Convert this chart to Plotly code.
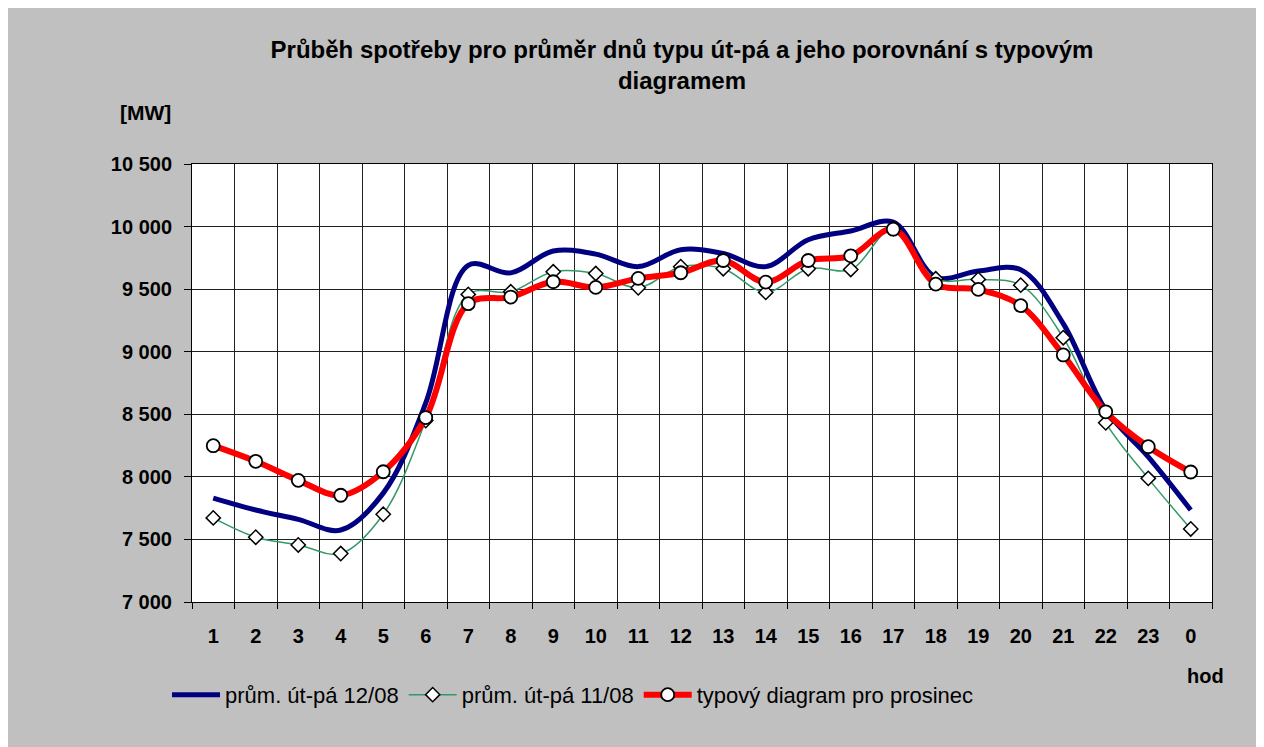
import plotly.graph_objects as go

# hodiny dne (kategorie osy x)
hours = ["1", "2", "3", "4", "5", "6", "7", "8", "9", "10", "11", "12",
         "13", "14", "15", "16", "17", "18", "19", "20", "21", "22", "23", "0"]

# prum. ut-pa 12/08 [MW]
avg_1208 = [7830, 7735, 7660, 7575, 7870, 8590, 9690, 9630, 9805, 9780, 9680, 9815,
            9785, 9680, 9895, 9965, 10035, 9595, 9645, 9655, 9225, 8535, 8160, 7735]

# prum. ut-pa 11/08 [MW]
avg_1108 = [7672, 7518, 7456, 7387, 7701, 8450, 9458, 9479, 9639, 9625, 9511, 9679,
            9663, 9474, 9663, 9657, 9985, 9583, 9578, 9532, 9112, 8432, 7988, 7584]

# typovy diagram pro prosinec [MW]
typical_dec = [8249, 8124, 7972, 7853, 8041, 8474, 9384, 9437, 9559, 9514, 9586, 9631,
               9729, 9556, 9729, 9766, 9979, 9540, 9498, 9368, 8974, 8520, 8241, 8039]

FONT = "Liberation Sans, Arial, sans-serif"

fig = go.Figure()

fig.add_trace(go.Scatter(
    x=hours, y=avg_1208, name="prům. út-pá 12/08", mode="lines",
    line=dict(color="#000080", width=5, shape="spline", smoothing=1.0)))

fig.add_trace(go.Scatter(
    x=hours, y=avg_1108, name="prům. út-pá 11/08", mode="lines+markers",
    line=dict(color="#339966", width=1.5, shape="spline", smoothing=1.0),
    marker=dict(symbol="diamond", size=11, color="white",
                line=dict(color="black", width=1.5))))

fig.add_trace(go.Scatter(
    x=hours, y=typical_dec, name="typový diagram pro prosinec", mode="lines+markers",
    line=dict(color="#FF0000", width=6, shape="spline", smoothing=1.0),
    marker=dict(symbol="circle", size=13, color="white",
                line=dict(color="black", width=1.8))))

# stranka ma okraj 8 px, proto 1256x739
fig.update_layout(
    width=1256, height=739,
    paper_bgcolor="#C0C0C0", plot_bgcolor="white",
    margin=dict(l=184, r=52, t=156, b=145),
    font=dict(family=FONT, color="black"),
    separators=", ",
    title=dict(
        text="<b>Průběh spotřeby pro průměr dnů typu út-pá a jeho porovnání s typovým<br>diagramem</b>",
        x=0.5366, xanchor="center", y=0.933, yanchor="top",
        font=dict(size=24, family=FONT)),
    showlegend=True,
    legend=dict(orientation="h", x=-0.0245, xref="paper", y=-0.164, yanchor="top",
                bgcolor="rgba(0,0,0,0)", font=dict(size=22, family=FONT),
                itemwidth=48, tracegroupgap=0),
)

fig.update_xaxes(
    type="category", tickson="boundaries", range=[-0.5, 23.5],
    showgrid=True, gridcolor="#202020", gridwidth=1,
    showline=True, linecolor="black", linewidth=1, mirror=True,
    ticks="outside", ticklen=6, tickcolor="black", ticklabelstandoff=16,
    tickfont=dict(size=20, family=FONT, weight="bold"))

fig.update_yaxes(
    range=[7000, 10500], dtick=500, tickformat=",d",
    showgrid=True, gridcolor="#202020", gridwidth=1,
    showline=True, linecolor="black", linewidth=1, mirror=True,
    ticks="outside", ticklen=7, tickcolor="black", ticklabelstandoff=8,
    tickfont=dict(size=20, family=FONT, weight="bold"))

fig.add_annotation(text="<b>[MW]</b>", xref="paper", yref="paper",
                   x=-0.046, y=1.1187, xanchor="center", yanchor="middle",
                   showarrow=False, font=dict(size=21, family=FONT))
fig.add_annotation(text="<b>hod</b>", xref="paper", yref="paper",
                   x=0.994, y=-0.169, xanchor="center", yanchor="middle",
                   showarrow=False, font=dict(size=20, family=FONT))

fig.write_html("out.html")
